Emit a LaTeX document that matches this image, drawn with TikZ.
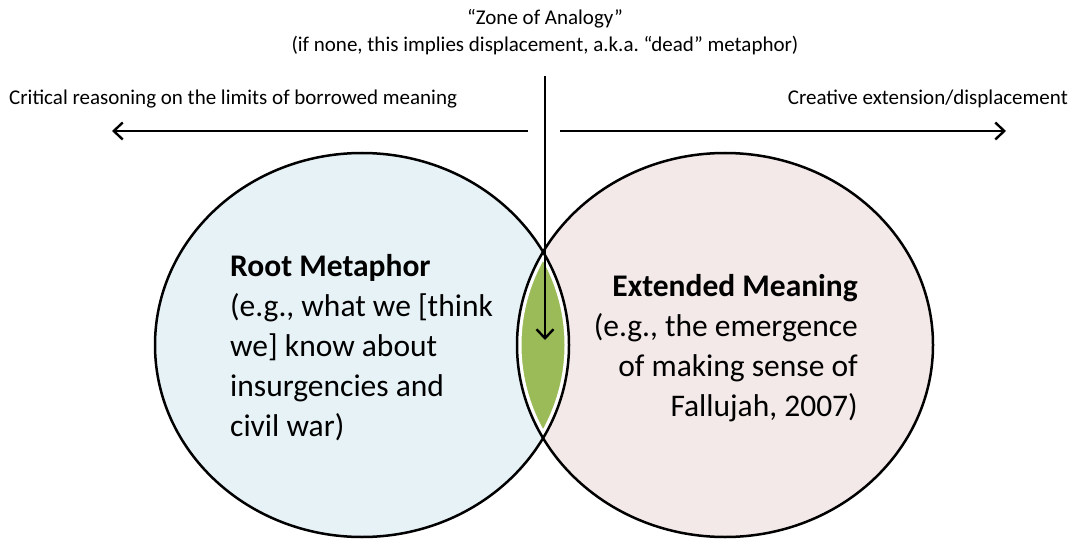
\documentclass[tikz,border=0pt]{standalone}
\usepackage{fontspec}
\setmainfont{Carlito}
\usetikzlibrary{positioning}
\usetikzlibrary {arrows.meta}
\definecolor{rootfill}{HTML}{E7F2F7}
\definecolor{extfill}{HTML}{F4E9E9}
\definecolor{lensgreen}{HTML}{9BBB59}
\tikzset{flowarrow/.style={line width=2.4pt,-{Straight Barb[length=9pt,width=17pt,line width=2.4pt]}}}
\tikzset{sidelabel/.style={inner sep=0pt,font=\fontsize{21}{27}\selectfont}}
\tikzset{circletext/.style={inner sep=0pt,font=\fontsize{31.5}{40}\selectfont}}

\begin{document}
\frenchspacing
\begin{tikzpicture}[x=1pt,y=-1pt]
        \useasboundingbox (0,0) rectangle (1073,540);

        \coordinate (rootc) at (362,345);
        \coordinate (extc) at (725,345);

        \fill[rootfill] (rootc) ellipse [x radius=207, y radius=192];
        \fill[extfill] (extc) ellipse [x radius=208, y radius=192];

        % zone of analogy
        \begin{scope}
            \clip (rootc) ellipse [x radius=207, y radius=192];
            \clip (extc) ellipse [x radius=208, y radius=192];
            \fill[lensgreen] (500,240) rectangle (600,450);
            \draw[white,line width=9pt] (rootc) ellipse [x radius=207, y radius=192];
            \draw[white,line width=9pt] (extc) ellipse [x radius=208, y radius=192];
        \end{scope}

        \draw[line width=2.5pt] (rootc) ellipse [x radius=207, y radius=192];
        \draw[line width=2.5pt] (extc) ellipse [x radius=208, y radius=192];

        \node[sidelabel, align=center, anchor=base] (zone) at (545,52)
            {“Zone of Analogy”\\(if none, this implies displacement, a.k.a. “dead” metaphor)};
        \node[sidelabel, anchor=base west] (critical) at (9,105) {Critical reasoning on the limits of borrowed meaning};
        \node[sidelabel, anchor=base east] (creative) at (1068,105) {Creative extension/displacement};

        \coordinate (leftstart) at (528,131);
        \coordinate (leftend) at (112,131);
        \coordinate (rightstart) at (560,131);
        \coordinate (rightend) at (1006,131);
        \coordinate (downstart) at (545,76);
        \coordinate (downend) at (545,340);
        \draw[flowarrow] (leftstart) -- (leftend);
        \draw[flowarrow] (rightstart) -- (rightend);
        \draw[flowarrow] (downstart) -- (downend);

        \node[circletext, align=left, anchor=north west] (roottext) at (230,254)
            {\textbf{Root Metaphor}\\(e.g., what we [think\\we] know about\\insurgencies and\\civil war)};
        \node[circletext, align=right, anchor=north east] (exttext) at (858,274)
            {\textbf{Extended Meaning}\\(e.g., the emergence\\of making sense of\\Fallujah, 2007)};

    \end{tikzpicture}
\end{document}
